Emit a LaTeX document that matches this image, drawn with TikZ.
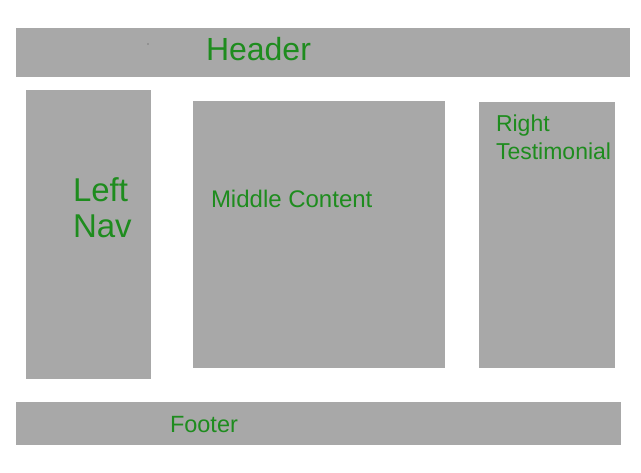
\documentclass[tikz,border=0pt]{standalone}
\usepackage{fontspec}
\setmainfont{Liberation Sans}
\definecolor{boxgray}{RGB}{168,168,168}
\definecolor{txtgreen}{RGB}{30,140,30}
\begin{document}
\begin{tikzpicture}[x=1pt,y=-1pt,
  panel/.style={fill=boxgray,draw=none,anchor=north west,inner sep=0pt,outer sep=0pt},
  lbl/.style={text=txtgreen,anchor=base west,inner sep=0pt,outer sep=0pt}]
\useasboundingbox[fill=white] (0,0) rectangle (641,473);
\node[panel,minimum width=614pt,minimum height=49pt] (header) at (16,28) {};
\node[panel,minimum width=125pt,minimum height=289pt] (leftnav) at (26,90) {};
\node[panel,minimum width=252pt,minimum height=267pt] (middle) at (193,101) {};
\node[panel,minimum width=136pt,minimum height=266pt] (right) at (479,102) {};
\node[panel,minimum width=605pt,minimum height=43pt] (footer) at (16,402) {};
\fill[black!70] (148,44) circle (0.6pt);
\node[lbl,font=\fontsize{32}{38}\selectfont] (theader) at (206,61) {Header};
\node[lbl,font=\fontsize{33}{38}\selectfont] (tleft) at (73,202) {Left};
\node[lbl,font=\fontsize{33}{38}\selectfont] (tnav) at (73,238) {Nav};
\node[lbl,font=\fontsize{24}{28}\selectfont] (tmiddle) at (211,208) {Middle Content};
\node[lbl,font=\fontsize{23}{28}\selectfont] (tright) at (496,132) {Right};
\node[lbl,font=\fontsize{23}{28}\selectfont] (ttest) at (496,160) {Testimonial};
\node[lbl,font=\fontsize{23.5}{28}\selectfont] (tfooter) at (170,433) {Footer};
\end{tikzpicture}
\end{document}
